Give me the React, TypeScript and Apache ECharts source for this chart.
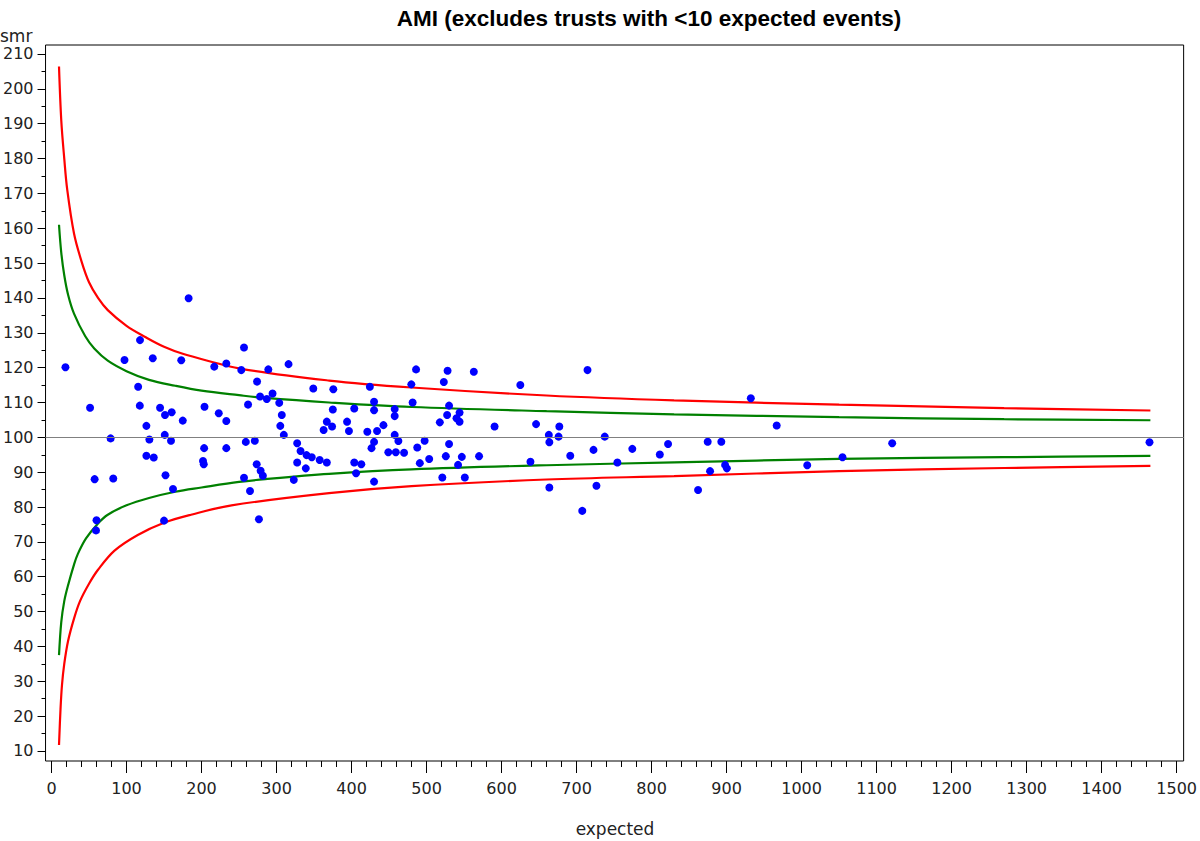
import React, { useEffect, useRef } from "react";
import * as echarts from "echarts";

const TITLE = "AMI (excludes trusts with <10 expected events)";
const X_NAME = "expected";
const Y_NAME = "smr";

const X_MIN = -7.96;
const X_MAX = 1509.3;
const Y_MIN = 7.13;
const Y_MAX = 212.58;

const X_TICKS = [0, 100, 200, 300, 400, 500, 600, 700, 800, 900, 1000, 1100, 1200, 1300, 1400, 1500];
const Y_TICKS = [10, 20, 30, 40, 50, 60, 70, 80, 90, 100, 110, 120, 130, 140, 150, 160, 170, 180, 190, 200, 210];
const X_MINOR_STEP = 20;
const Y_MINOR_STEP = 5;
const TARGET = 100;

// trusts: [expected, smr]
const TRUSTS: [number, number][] = [
  [18.6, 120.1], [182.8, 139.9], [118, 127.9], [97.3, 122.2], [135, 122.7], [173, 122.1], [217, 120.3], [233, 121.2],
  [115.5, 114.5], [51.4, 108.5], [117.7, 109.1], [144.7, 108.5], [151.3, 106.4], [160.2, 107.2], [204, 108.8], [223, 106.9],
  [233, 104.7], [175, 104.8], [126.5, 103.3], [78.8, 99.7], [130.5, 99.4], [151, 100.7], [159.3, 99.0], [203.5, 96.9],
  [233, 96.9], [126.5, 94.7], [136.3, 94.2], [202, 93.2], [203, 92.3], [57.5, 88.0], [82.3, 88.2], [152, 89.1],
  [162, 85.2], [60, 76.2], [59.3, 73.3], [150, 76.1],
  [256.6, 125.8], [253, 119.3], [289, 119.5], [316, 121.0], [274, 116.0], [349, 114.0], [375.7, 113.8], [424.4, 114.5],
  [262, 109.4], [278, 111.7], [287, 111.0], [294.7, 112.6], [303.6, 109.9], [375, 108.0], [403.6, 108.3], [430, 110.2],
  [430, 107.8], [457.5, 108.1], [457.5, 106.1], [307, 106.4], [305, 103.3], [309.7, 100.7], [367, 104.5], [362.8, 102.1],
  [374, 103.1], [394, 104.5], [396.5, 101.8], [421, 101.6], [434, 101.8], [442.5, 103.5], [457.5, 100.7], [462.4, 98.95],
  [430, 98.7], [426.6, 96.9], [259, 98.7], [271, 99.0], [327.5, 98.3], [332, 96.1], [340, 94.9], [347, 94.3],
  [357.5, 93.5], [367, 92.8], [327.5, 92.8], [339, 91.1], [273.5, 92.3], [278.8, 90.4], [281.8, 89.0], [256.6, 88.4],
  [264.6, 84.6], [323, 87.8], [403.6, 92.8], [413, 92.3], [406, 89.7], [449, 95.7], [459, 95.7], [470, 95.6],
  [430, 87.3], [276.5, 76.5],
  [486, 119.5], [528, 119.1], [563, 118.8], [714.6, 119.3], [479.7, 115.2], [523, 115.9], [625, 115.0], [481.4, 110.0],
  [530, 109.1], [527.4, 106.4], [544, 107.1], [517.7, 104.3], [539.9, 105.5], [544, 104.5], [590.7, 103.1], [646, 103.8],
  [663, 100.7], [677, 103.1], [676, 100.2], [663.7, 98.6], [497.4, 99.0], [487.6, 97.1], [530, 98.1], [503.5, 93.8],
  [491, 92.6], [525.7, 94.6], [547, 94.4], [570, 94.6], [542, 92.1], [638.5, 93.0], [691.6, 94.7], [722.6, 96.4],
  [521, 88.5], [551, 88.5], [663.7, 85.6], [726.5, 86.1],
  [932.3, 111.2], [966.8, 103.4], [737.6, 100.2], [774.3, 96.7], [811, 95.1], [822, 98.1], [874.8, 98.75], [893, 98.75],
  [754.4, 92.8], [898, 92.1], [900.4, 91.1], [878, 90.3], [1007.5, 92.0], [862, 84.9],
  [1054.5, 94.3], [1120.8, 98.3], [1463.8, 98.6], [707.6, 78.9],
];

// control limits: [expected, smr]
const UPPER_998: [number, number][] = [
  [10, 206.4], [13, 191], [17, 180], [21, 171], [30, 158.5], [40, 150.5], [50, 144.5], [62, 140],
  [75, 136.5], [100, 132], [125, 128.8], [150, 126], [175, 124], [250, 119.8], [370, 116.3], [480, 114.3],
  [660, 112], [830, 110.6], [1050, 109.4], [1270, 108.4], [1465, 107.7],
];
const UPPER_95: [number, number][] = [
  [10, 161], [13, 153], [17, 146.5], [22, 141], [30, 135.5], [45, 129], [57, 125.5], [75, 122],
  [100, 119], [130, 116.5], [165, 114.8], [200, 113.4], [250, 112.1], [285, 111.3], [370, 110], [480, 108.7],
  [660, 107.5], [830, 106.6], [1050, 105.8], [1270, 105.2], [1465, 104.9],
];
const LOWER_95: [number, number][] = [
  [10, 37.5], [13, 47], [17, 53], [22, 57.5], [30, 63.5], [35, 66.5], [46, 71], [62, 75.3],
  [75, 77.8], [100, 80.5], [130, 82.6], [165, 84.4], [200, 85.6], [250, 87.2], [285, 88], [370, 89.5],
  [480, 90.8], [660, 92], [830, 92.8], [1050, 93.8], [1270, 94.3], [1465, 94.7],
];
const LOWER_998: [number, number][] = [
  [10, 11.7], [12, 22], [14, 29], [17, 35], [22, 41.5], [30, 48], [38, 53], [50, 58],
  [62, 62], [84, 67.5], [115, 72], [150, 75.5], [186, 77.8], [240, 80.5], [370, 84], [480, 86],
  [660, 87.9], [830, 88.9], [1050, 90.3], [1270, 91.2], [1465, 91.8],
];

const RED = "#ff0000";
const GREEN = "#008000";
const BLUE = "#0000ff";
const FONT = "'DejaVu Sans', Verdana, sans-serif";

function minorValues(majors: number[], step: number): number[] {
  const out: number[] = [];
  for (let i = 0; i < majors.length - 1; i++) {
    for (let v = majors[i] + step; v < majors[i + 1] - 1e-9; v += step) out.push(Math.round(v * 100) / 100);
  }
  return out;
}

function limitSeries(name: string, data: [number, number][], color: string) {
  return {
    name,
    type: "line",
    data,
    xAxisIndex: 0,
    yAxisIndex: 0,
    showSymbol: false,
    smooth: 0.35,
    lineStyle: { color, width: 2.2 },
    silent: true,
    z: 2,
  };
}

export default function App() {
  const ref = useRef<HTMLDivElement>(null);
  useEffect(() => {
    if (!ref.current) return;
    const chart = echarts.init(ref.current, undefined, { renderer: "svg" });
    const xMinor = minorValues(X_TICKS, X_MINOR_STEP);
    const yMinor = minorValues(Y_TICKS, Y_MINOR_STEP);
    const tickLine = { color: "#000", width: 1 };
    const plain = (v: number) => String(v);
    chart.setOption({
      animation: false,
      backgroundColor: "#ffffff",
      textStyle: { fontFamily: FONT },
      grid: {
        left: 44,
        top: 45,
        width: 1143,
        height: 716,
        show: true,
        borderColor: "#000",
        borderWidth: 1,
        backgroundColor: "transparent",
      },
      xAxis: [
        {
          type: "value",
          position: "bottom",
          min: X_MIN,
          max: X_MAX,
          axisLine: { show: false, onZero: false },
          axisTick: { show: true, customValues: X_TICKS, length: 12, lineStyle: tickLine },
          axisLabel: { customValues: X_TICKS, formatter: plain, fontSize: 16, color: "#222", margin: 19, fontFamily: FONT },
          splitLine: { show: false },
        },
        {
          type: "value",
          position: "bottom",
          min: X_MIN,
          max: X_MAX,
          axisLine: { show: false, onZero: false },
          axisTick: { show: true, customValues: xMinor, length: 6, lineStyle: tickLine },
          axisLabel: { show: false },
          splitLine: { show: false },
        },
      ],
      yAxis: [
        {
          type: "value",
          position: "left",
          min: Y_MIN,
          max: Y_MAX,
          axisLine: { show: false, onZero: false },
          axisTick: { show: true, customValues: Y_TICKS, length: 8, lineStyle: tickLine },
          axisLabel: { customValues: Y_TICKS, formatter: plain, fontSize: 16, color: "#222", margin: 12, fontFamily: FONT },
          splitLine: { show: false },
        },
        {
          type: "value",
          position: "left",
          min: Y_MIN,
          max: Y_MAX,
          axisLine: { show: false, onZero: false },
          axisTick: { show: true, customValues: yMinor, length: 4, lineStyle: tickLine },
          axisLabel: { show: false },
          splitLine: { show: false },
        },
      ],
      graphic: [
        {
          type: "text",
          x: 649,
          y: 18,
          style: {
            text: TITLE,
            fill: "#000",
            font: "bold 22.5px 'Liberation Sans', Arial, sans-serif",
            textAlign: "center",
            textVerticalAlign: "middle",
          },
        },
        {
          type: "text",
          x: 0,
          y: 36,
          style: { text: Y_NAME, fill: "#222", font: `17px ${FONT}`, textAlign: "left", textVerticalAlign: "middle" },
        },
        {
          type: "text",
          x: 615,
          y: 829,
          style: { text: X_NAME, fill: "#222", font: `17px ${FONT}`, textAlign: "center", textVerticalAlign: "middle" },
        },
      ],
      series: [
        limitSeries("upper 99.8%", UPPER_998, RED),
        limitSeries("upper 95%", UPPER_95, GREEN),
        limitSeries("lower 95%", LOWER_95, GREEN),
        limitSeries("lower 99.8%", LOWER_998, RED),
        {
          name: "trusts",
          type: "scatter",
          data: TRUSTS,
          xAxisIndex: 0,
          yAxisIndex: 0,
          symbol: "circle",
          symbolSize: 8,
          itemStyle: { color: BLUE, opacity: 1 },
          z: 3,
          markLine: {
            silent: true,
            symbol: "none",
            label: { show: false },
            lineStyle: { color: "#808080", width: 1, type: "solid" },
            data: [{ yAxis: TARGET }],
          },
        },
      ],
    });
    return () => chart.dispose();
  }, []);
  return <div ref={ref} style={{ position: "absolute", left: 0, top: 0, width: 1200, height: 841 }} />;
}
